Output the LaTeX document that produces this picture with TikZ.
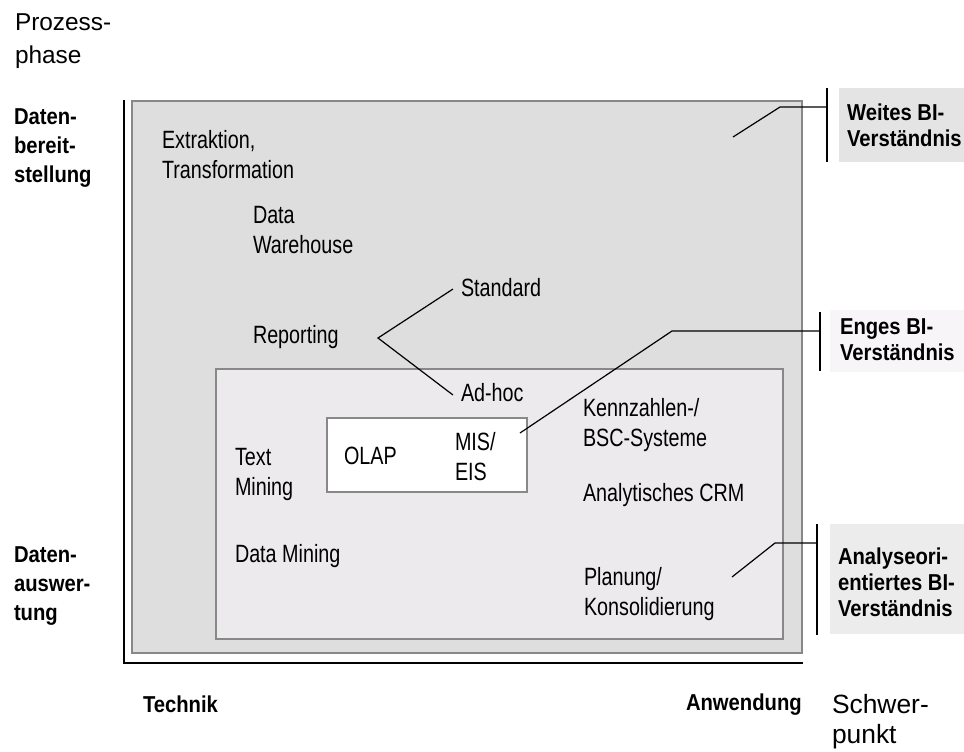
\documentclass[tikz,border=0pt]{standalone}
\usepackage{fontspec}
\setmainfont{Liberation Sans}
\newfontfamily\narrowsf{Liberation Sans}[FakeStretch=0.79]
\newfontfamily\narrowbf{Liberation Sans Bold}[FakeStretch=0.88]
\definecolor{outerfill}{RGB}{222,222,222}
\definecolor{innerfill}{RGB}{237,234,237}
\definecolor{framegray}{RGB}{136,136,136}
\definecolor{weitfill}{RGB}{228,228,228}
\definecolor{engfill}{RGB}{247,245,247}
\definecolor{anafill}{RGB}{236,236,236}
\begin{document}
\begin{tikzpicture}[x=0.5pt, y=-0.5pt, line join=miter,
	every node/.style={inner sep=0pt, outer sep=0pt, anchor=west, align=left},
	item/.style={font=\narrowsf\fontsize{12.5}{15}\selectfont},
	axislabel/.style={font=\fontsize{12.2}{16.5}\selectfont},
	phaselabel/.style={font=\narrowbf\fontsize{11.5}{14.5}\selectfont},
	bilabel/.style={font=\narrowbf\fontsize{11.5}{13}\selectfont},
	frame/.style={draw=framegray, line width=1pt},
	link/.style={line width=0.6pt}]
	\useasboundingbox (0,0) rectangle (964,751);

	% Flaechen
	\fill[weitfill] (839,88) rectangle (964,162);
	\fill[engfill] (830,310) rectangle (964,372);
	\fill[anafill] (830,524) rectangle (964,634);
	\draw[frame, fill=outerfill] (132,101) rectangle (802,653);
	\draw[frame, fill=innerfill] (216,369) rectangle (783,639);
	\draw[frame, fill=white] (327,418) rectangle (527,492);
	\draw[line width=1.2pt] (124,100) -- (124,663) -- (803,663);

	% Achsen
	\node[axislabel] (proz) at (15, 41) {Prozess-\\phase};
	\node[axislabel, font=\fontsize{13.2}{15}\selectfont] (schwer) at (832, 722) {Schwer-\\punkt};
	\node[phaselabel] (bereit) at (14, 148) {Daten-\\bereit-\\stellung};
	\node[phaselabel] (ausw) at (14, 586) {Daten-\\auswer-\\tung};
	\node[phaselabel] (technik) at (143, 704) {Technik};
	\node[phaselabel] (anw) at (686, 705) {Anwendung};

	% Inhalte
	\node[item] (extr) at (162, 155) {Extraktion,\\Transformation};
	\node[item] (dwh) at (253, 230) {Data\\Warehouse};
	\node[item] (rep) at (253, 337) {Reporting};
	\node[item] (std) at (461, 288) {Standard};
	\node[item] (adhoc) at (461, 393) {Ad-hoc};
	\node[item] (olap) at (344, 456) {OLAP};
	\node[item] (mis) at (455, 457) {MIS/\\EIS};
	\node[item] (textm) at (235, 474) {Text\\Mining};
	\node[item] (kenn) at (583, 425) {Kennzahlen-/\\BSC-Systeme};
	\node[item] (crm) at (583, 495) {Analytisches CRM};
	\node[item] (dm) at (235, 556) {Data Mining};
	\node[item] (plan) at (584, 594) {Planung/\\Konsolidierung};

	% BI-Verstaendnis
	\node[bilabel] (weit) at (847, 125) {Weites BI-\\Verständnis};
	\node[bilabel] (eng) at (840, 340) {Enges BI-\\Verständnis};
	\node[bilabel] (ana) at (838, 582) {Analyseori-\\entiertes BI-\\Verständnis};

	% Verbindungen
	\coordinate (repfork) at (378, 338);
	\draw[link] (std.west) ++(-8,1) -- (repfork) -- ([xshift=-4pt, yshift=-1pt]adhoc.west);
	\coordinate (w1) at (733, 137);
	\coordinate (w2) at (780, 107);
	\coordinate (w3) at (827, 107);
	\draw[link] (w1) -- (w2) -- (w3);
	\draw[link] (827, 88) -- (827, 162);
	\coordinate (e1) at (520, 433);
	\coordinate (e2) at (672, 331);
	\coordinate (e3) at (820, 331);
	\draw[link] (e1) -- (e2) -- (e3);
	\draw[link] (820, 312) -- (820, 371);
	\coordinate (a1) at (732, 577);
	\coordinate (a2) at (775, 543);
	\coordinate (a3) at (817, 543);
	\draw[link] (a1) -- (a2) -- (a3);
	\draw[link] (817, 524) -- (817, 635);
\end{tikzpicture}
\end{document}
